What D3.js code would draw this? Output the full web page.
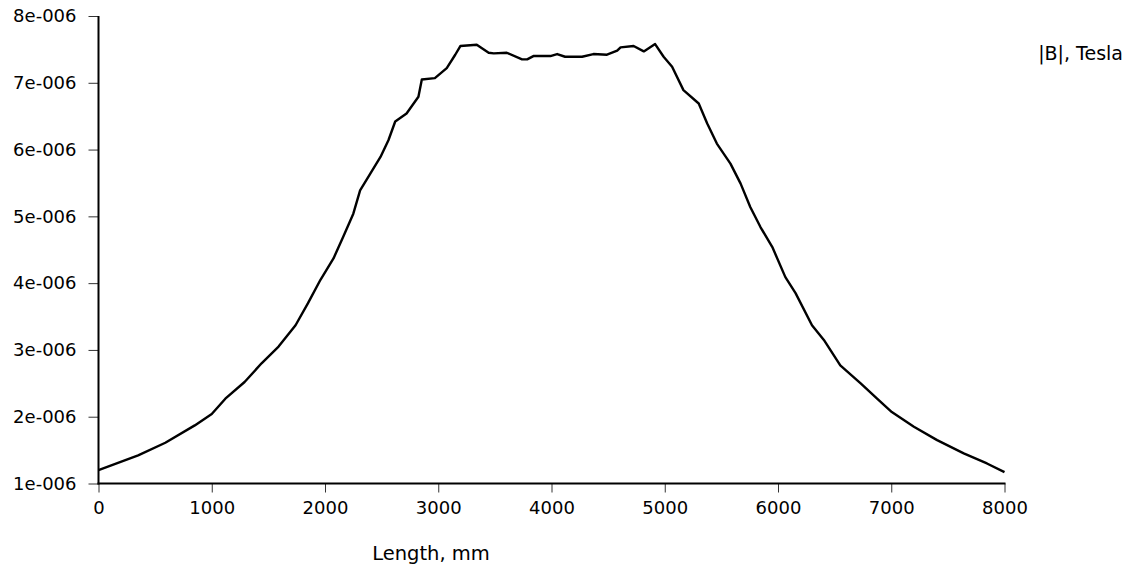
<!DOCTYPE html>
<html>
<head>
<meta charset="utf-8">
<script src="https://cdn.jsdelivr.net/npm/d3@7"></script>
<style>
  html, body { margin: 0; padding: 0; background: #fff; }
  svg { display: block; }
  text { font-family: "DejaVu Sans", Verdana, sans-serif; fill: #000; }
</style>
</head>
<body>
<svg id="chart" width="1130" height="565"></svg>
<script>
// Length along the path, mm
const lengthMm = [0, 350, 590, 850, 1000, 1120, 1290, 1440, 1590, 1740, 1850, 1960,
  2075, 2160, 2250, 2310, 2400, 2490, 2560, 2620, 2720, 2825, 2855, 2970, 3075, 3150,
  3195, 3340, 3445, 3490, 3605, 3740, 3785, 3840, 3990, 4050, 4120, 4270, 4370, 4490,
  4580, 4610, 4725, 4815, 4915, 4990, 5065, 5165, 5300, 5375, 5460, 5580, 5670, 5755,
  5845, 5950, 6065, 6155, 6300, 6405, 6550, 6730, 6875, 7005, 7200, 7405, 7640, 7845, 8000];
// |B| in units of 1e-6 Tesla
const bMicroTesla = [1.20, 1.42, 1.61, 1.87, 2.04, 2.27, 2.52, 2.80, 3.05, 3.37, 3.70, 4.05,
  4.37, 4.69, 5.04, 5.39, 5.64, 5.89, 6.14, 6.42, 6.54, 6.79, 7.05, 7.07, 7.22, 7.42,
  7.55, 7.57, 7.45, 7.44, 7.45, 7.35, 7.35, 7.40, 7.40, 7.43, 7.39, 7.39, 7.43, 7.42,
  7.48, 7.53, 7.55, 7.47, 7.58, 7.39, 7.24, 6.89, 6.69, 6.39, 6.09, 5.79, 5.49, 5.14,
  4.84, 4.54, 4.09, 3.85, 3.37, 3.15, 2.77, 2.50, 2.27, 2.07, 1.85, 1.65, 1.45, 1.30, 1.17];

const xTicks = [0, 1000, 2000, 3000, 4000, 5000, 6000, 7000, 8000];
const yTicks = [1e-6, 2e-6, 3e-6, 4e-6, 5e-6, 6e-6, 7e-6, 8e-6];
const yTickLabels = ["1e-006", "2e-006", "3e-006", "4e-006", "5e-006", "6e-006", "7e-006", "8e-006"];
const xTitle = "Length, mm";
const seriesName = "|B|, Tesla";

(function () {
  const data = lengthMm.map((v, i) => ({ x: v, y: bMicroTesla[i] * 1e-6 }));

  const svg = d3.select("#chart");
  const mLeft = 98.5, mRight = 1004.5, mTop = 16, mBottom = 483.5;

  const x = d3.scaleLinear().domain([0, 8000]).range([mLeft, mRight]);
  const y = d3.scaleLinear().domain([1e-6, 8e-6]).range([mBottom, mTop]);

  // Y axis
  const yAxis = svg.append("g").attr("transform", `translate(${mLeft},0)`)
    .call(d3.axisLeft(y).tickValues(yTicks).tickSize(10).tickPadding(12)
      .tickFormat((d, i) => yTickLabels[i]));
  yAxis.select(".domain").remove();
  yAxis.selectAll(".tick line").attr("stroke", "#333").attr("stroke-width", 1);
  yAxis.selectAll(".tick text").style("font-size", "18px").attr("fill", "#000");

  // X axis
  const xAxis = svg.append("g").attr("transform", `translate(0,${mBottom})`)
    .call(d3.axisBottom(x).tickValues(xTicks).tickSize(9).tickPadding(9)
      .tickFormat(d3.format("d")));
  xAxis.select(".domain").remove();
  xAxis.selectAll(".tick line").attr("stroke", "#333").attr("stroke-width", 1);
  xAxis.selectAll(".tick text").style("font-size", "18px").attr("fill", "#000");

  // Axis lines
  svg.append("line").attr("x1", mLeft).attr("x2", mLeft).attr("y1", y(8e-6)).attr("y2", mBottom + 1)
    .attr("stroke", "#000").attr("stroke-width", 2);
  svg.append("line").attr("x1", mLeft - 1).attr("x2", mRight + 1).attr("y1", mBottom).attr("y2", mBottom)
    .attr("stroke", "#000").attr("stroke-width", 2);

  // Data line
  svg.append("path").datum(data)
    .attr("fill", "none").attr("stroke", "#000").attr("stroke-width", 2.4)
    .attr("stroke-linejoin", "round")
    .attr("d", d3.line().x(d => x(d.x)).y(d => y(d.y)));

  // Titles
  svg.append("text").attr("x", 431).attr("y", 560).attr("text-anchor", "middle")
    .style("font-size", "19.5px").text(xTitle);
  svg.append("text").attr("x", 1123).attr("y", 60).attr("text-anchor", "end")
    .style("font-size", "19px").text(seriesName);
})();
</script>
</body>
</html>
